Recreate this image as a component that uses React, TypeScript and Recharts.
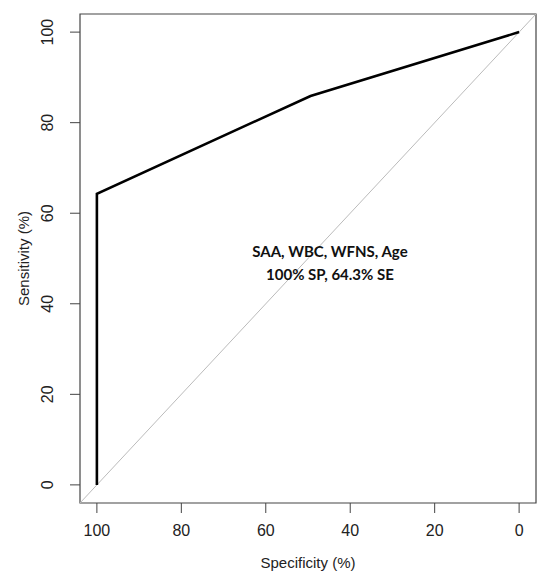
import { Line, LineChart, ReferenceArea, ReferenceDot, ReferenceLine, XAxis, YAxis } from 'recharts';

const specificity = [100, 100, 49.4, 0];
const sensitivity = [0, 64.3, 85.9, 100];
const ticks = [0, 20, 40, 60, 80, 100];
const noteLines = ['SAA, WBC, WFNS, Age', '100% SP, 64.3% SE'];
const notePos = { x: 44.8, y: 48 };

const data = specificity.map((s, i) => ({ spec: s, sens: sensitivity[i] }));

const axisColor = '#444';
const font = '"Liberation Sans", Arial, sans-serif';

function YTick({ x, y, payload }: any) {
  return (
    <text
      x={x}
      y={y}
      transform={`rotate(-90, ${x}, ${y})`}
      textAnchor="middle"
      fontSize={16}
      fontFamily={font}
      fill="#222"
    >
      {payload.value}
    </text>
  );
}

function Note({ viewBox }: any) {
  const cx = viewBox.x + (viewBox.width || 0) / 2;
  const cy = viewBox.y + (viewBox.height || 0) / 2;
  return (
    <text textAnchor="middle" fontFamily="Lato, sans-serif" fontWeight="bold" fontSize={15} fill="#111">
      {noteLines.map((t, i) => (
        <tspan key={t} x={cx} y={cy - 10.5 + i * 23}>
          {t}
        </tspan>
      ))}
    </text>
  );
}

export default function App() {
  return (
    <div style={{ position: 'absolute', left: 0, top: 0, background: '#fff' }}>
      <LineChart width={537} height={574} data={data} margin={{ top: 14, right: 1, left: 30, bottom: 26 }}>
        <XAxis
          type="number"
          dataKey="spec"
          domain={[-4, 104]}
          reversed
          ticks={ticks}
          allowDataOverflow
          axisLine={false}
          tickLine={{ stroke: axisColor }}
          tickSize={10}
          tickMargin={12}
          height={45}
          tick={{ fontSize: 16, fontFamily: font, fill: '#222' }}
          label={{ value: 'Specificity (%)', position: 'insideBottom', offset: -20, fontSize: 15, fontFamily: font, fill: '#222' }}
        />
        <YAxis
          type="number"
          dataKey="sens"
          domain={[-4, 104]}
          ticks={ticks}
          allowDataOverflow
          axisLine={false}
          tickLine={{ stroke: axisColor }}
          tickSize={10}
          tickMargin={17}
          width={50}
          tick={<YTick />}
          label={{ value: 'Sensitivity (%)', angle: -90, position: 'insideLeft', offset: -6, fontSize: 15, fontFamily: font, fill: '#222', style: { textAnchor: 'middle' } }}
        />
        <ReferenceLine
          segment={[{ x: 104, y: -4 }, { x: -4, y: 104 }]}
          stroke="#bbb"
          strokeWidth={1}
          ifOverflow="visible"
        />
        <ReferenceArea x1={104} x2={-4} y1={-4} y2={104} fill="none" stroke={axisColor} strokeWidth={1.2} ifOverflow="visible" />
        <Line type="linear" dataKey="sens" stroke="#000" strokeWidth={2.6} dot={false} isAnimationActive={false} />
        <ReferenceDot x={notePos.x} y={notePos.y} r={0} fill="none" stroke="none" label={<Note />} />
      </LineChart>
    </div>
  );
}
